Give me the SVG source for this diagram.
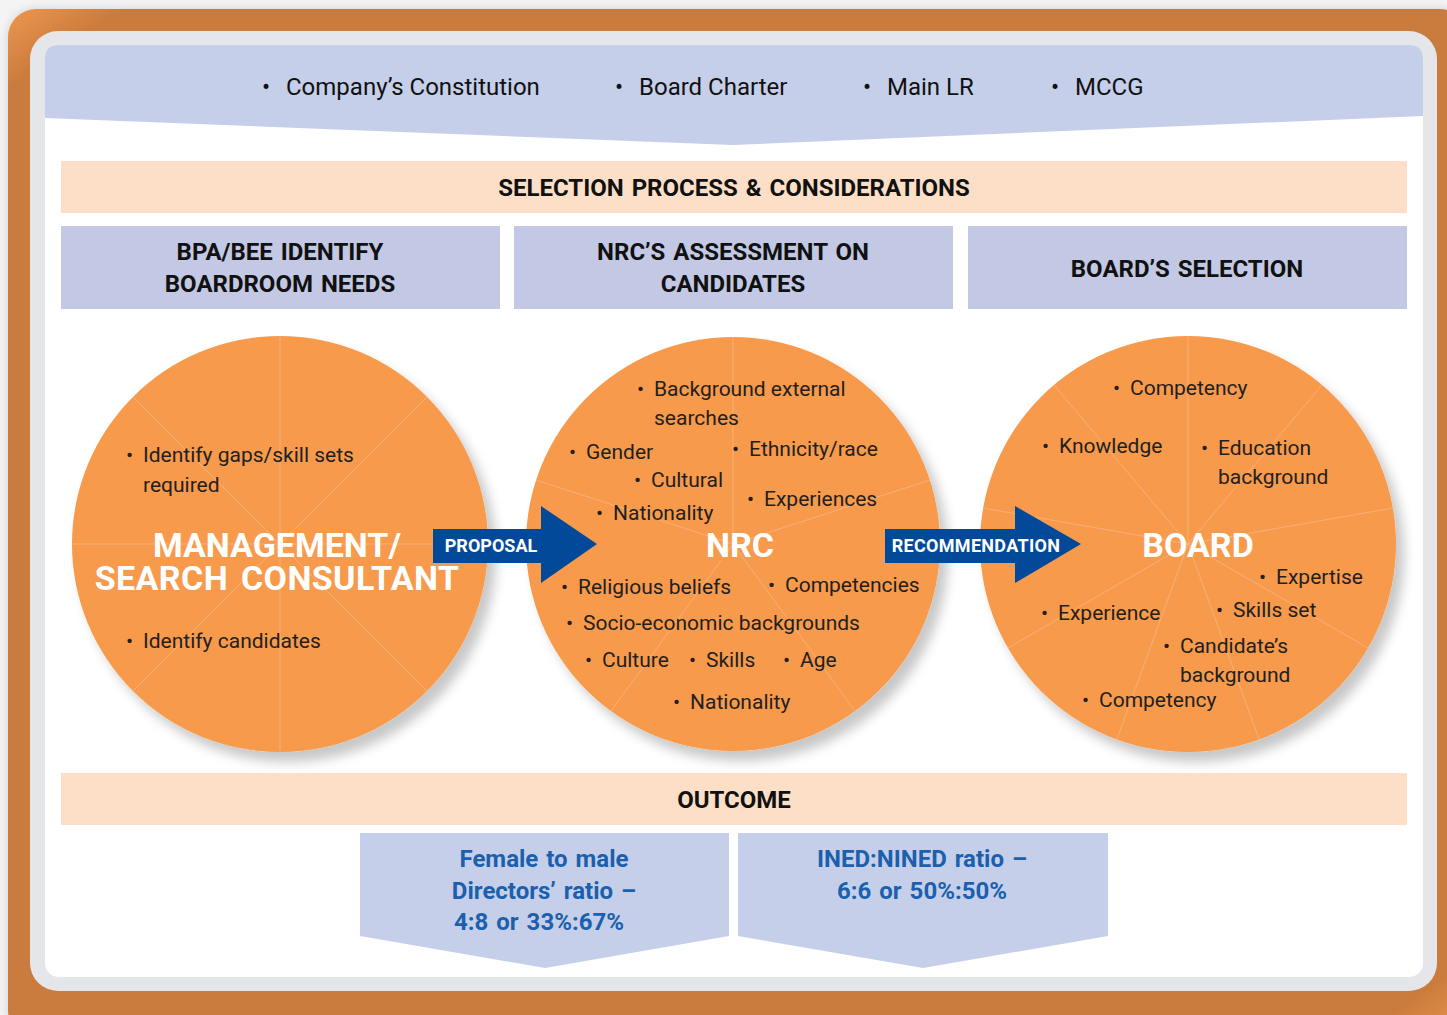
<svg xmlns="http://www.w3.org/2000/svg" width="1447" height="1015" viewBox="0 0 1447 1015">
<defs>
<linearGradient id="og" x1="0" y1="0" x2="1" y2="1">
<stop offset="0" stop-color="#F0964F"/>
<stop offset="0.04" stop-color="#C97B3C"/>
<stop offset="0.96" stop-color="#C97B3C"/>
<stop offset="1" stop-color="#F0964F"/>
</linearGradient>
<filter id="sh" x="-20%" y="-20%" width="150%" height="150%">
<feDropShadow dx="8" dy="10" stdDeviation="6" flood-color="#000" flood-opacity="0.22"/>
</filter>
<filter id="osh" x="-5%" y="-5%" width="110%" height="110%">
<feDropShadow dx="0" dy="0" stdDeviation="5" flood-color="#000" flood-opacity="0.15"/>
</filter>
</defs>
<style>
.t{font-family:Roboto,"Liberation Sans",sans-serif;font-size:21px;fill:#231F20}
.top{font-family:Roboto,"Liberation Sans",sans-serif;font-size:24px;fill:#111}
.h{font-family:Roboto,"Liberation Sans",sans-serif;font-size:24px;font-weight:bold;fill:#111;text-anchor:middle}
.c{font-family:Roboto,"Liberation Sans",sans-serif;font-size:34px;font-weight:bold;fill:#fff;text-anchor:middle}
.a{font-family:Roboto,"Liberation Sans",sans-serif;font-size:18px;font-weight:bold;fill:#fff;text-anchor:middle}
.o{font-family:Roboto,"Liberation Sans",sans-serif;font-size:24px;font-weight:bold;fill:#1B5FAD;text-anchor:middle}
.circ{fill:#F79A4C}
.seg{stroke:#F9B07A;stroke-width:1;fill:none}
.lav{fill:#C5CFEA}
.hd{fill:#C3C8E5}
.pch{fill:#FDDFC7}
.arr{fill:#02499A}
</style>
<rect width="1447" height="1015" fill="#F4F4F4"/>
<rect x="8" y="9" width="1460" height="1030" rx="28" fill="url(#og)" filter="url(#osh)"/>
<rect x="30" y="31" width="1407" height="960" rx="28" fill="#E5E6E9"/>
<rect x="45" y="45" width="1378" height="932" rx="14" fill="#FFFFFF"/>

<g id="sources">
<path class="lav" d="M45,118 L45,59 Q45,45 59,45 L1409,45 Q1423,45 1423,59 L1423,116 L733,145 Z"/>
<text class="top" x="262" y="95">•</text><text class="top" x="286" y="95">Company’s Constitution</text>
<text class="top" x="615" y="95">•</text><text class="top" x="639" y="95">Board Charter</text>
<text class="top" x="863" y="95">•</text><text class="top" x="887" y="95">Main LR</text>
<text class="top" x="1051" y="95">•</text><text class="top" x="1075" y="95">MCCG</text>
</g>

<g id="selection-header">
<rect class="pch" x="61" y="161" width="1346" height="52"/>
<text class="h" x="734" y="196" word-spacing="2">SELECTION PROCESS &amp; CONSIDERATIONS</text>
</g>

<g id="col1-header">
<rect class="hd" x="61" y="226" width="439" height="83"/>
<text class="h" x="280" y="260" word-spacing="2">BPA/BEE IDENTIFY</text>
<text class="h" x="280" y="292" word-spacing="2">BOARDROOM NEEDS</text>
</g>
<g id="col2-header">
<rect class="hd" x="514" y="226" width="439" height="83"/>
<text class="h" x="733" y="260" word-spacing="2">NRC’S ASSESSMENT ON</text>
<text class="h" x="733" y="292" word-spacing="2">CANDIDATES</text>
</g>
<g id="col3-header">
<rect class="hd" x="968" y="226" width="439" height="83"/>
<text class="h" x="1187" y="277" word-spacing="2">BOARD’S SELECTION</text>
</g>

<g id="management">
<circle class="circ" cx="280" cy="544" r="208" filter="url(#sh)"/>
<g class="seg">
<line x1="280" y1="336" x2="280" y2="752"/>
<line x1="72" y1="544" x2="488" y2="544"/>
<line x1="133" y1="397" x2="427" y2="691"/>
<line x1="427" y1="397" x2="133" y2="691"/>
</g>
<text class="t" x="126" y="462">•</text><text class="t" x="143" y="462">Identify gaps/skill sets</text>
<text class="t" x="143" y="492">required</text>
<text class="t" x="126" y="648">•</text><text class="t" x="143" y="648">Identify candidates</text>
<text class="c" x="277" y="557">MANAGEMENT/</text>
<text class="c" x="277" y="590" word-spacing="4" letter-spacing="0.4">SEARCH CONSULTANT</text>
</g>

<g id="nrc">
<circle class="circ" cx="733" cy="544" r="207" filter="url(#sh)"/>
<g class="seg">
<line x1="733" y1="544" x2="733" y2="337"/>
<line x1="733" y1="544" x2="536" y2="480"/>
<line x1="733" y1="544" x2="930" y2="480"/>
<line x1="733" y1="544" x2="611" y2="711"/>
<line x1="733" y1="544" x2="855" y2="711"/>
</g>
<text class="t" x="637" y="396">•</text><text class="t" x="654" y="396">Background external</text>
<text class="t" x="654" y="425">searches</text>
<text class="t" x="569" y="459">•</text><text class="t" x="586" y="459">Gender</text>
<text class="t" x="732" y="456">•</text><text class="t" x="749" y="456">Ethnicity/race</text>
<text class="t" x="634" y="487">•</text><text class="t" x="651" y="487">Cultural</text>
<text class="t" x="747" y="506">•</text><text class="t" x="764" y="506">Experiences</text>
<text class="t" x="596" y="520">•</text><text class="t" x="613" y="520">Nationality</text>
<text class="t" x="561" y="594">•</text><text class="t" x="578" y="594">Religious beliefs</text>
<text class="t" x="768" y="592">•</text><text class="t" x="785" y="592">Competencies</text>
<text class="t" x="566" y="630">•</text><text class="t" x="583" y="630">Socio-economic backgrounds</text>
<text class="t" x="585" y="667">•</text><text class="t" x="602" y="667">Culture</text>
<text class="t" x="689" y="667">•</text><text class="t" x="706" y="667">Skills</text>
<text class="t" x="783" y="667">•</text><text class="t" x="800" y="667">Age</text>
<text class="t" x="673" y="709">•</text><text class="t" x="690" y="709">Nationality</text>
<text class="c" x="740" y="557">NRC</text>
</g>

<g id="board">
<circle class="circ" cx="1188" cy="544" r="208" filter="url(#sh)"/>
<g class="seg">
<line x1="1188" y1="544" x2="1188" y2="336"/>
<line x1="1188" y1="544" x2="1054" y2="385"/>
<line x1="1188" y1="544" x2="1322" y2="385"/>
<line x1="1188" y1="544" x2="983" y2="508"/>
<line x1="1188" y1="544" x2="1393" y2="508"/>
<line x1="1188" y1="544" x2="1008" y2="648"/>
<line x1="1188" y1="544" x2="1368" y2="648"/>
<line x1="1188" y1="544" x2="1117" y2="739"/>
<line x1="1188" y1="544" x2="1259" y2="739"/>
</g>
<text class="t" x="1113" y="395">•</text><text class="t" x="1130" y="395">Competency</text>
<text class="t" x="1042" y="453">•</text><text class="t" x="1059" y="453">Knowledge</text>
<text class="t" x="1201" y="455">•</text><text class="t" x="1218" y="455">Education</text>
<text class="t" x="1218" y="484">background</text>
<text class="t" x="1259" y="584">•</text><text class="t" x="1276" y="584">Expertise</text>
<text class="t" x="1041" y="620">•</text><text class="t" x="1058" y="620">Experience</text>
<text class="t" x="1216" y="617">•</text><text class="t" x="1233" y="617">Skills set</text>
<text class="t" x="1163" y="653">•</text><text class="t" x="1180" y="653">Candidate’s</text>
<text class="t" x="1180" y="682">background</text>
<text class="t" x="1082" y="707">•</text><text class="t" x="1099" y="707">Competency</text>
<text class="c" x="1198" y="557">BOARD</text>
</g>

<g id="connectors">
<path class="arr" d="M433,529 L541,529 L541,506 L597,544 L541,583 L541,563 L433,563 Z"/>
<text class="a" x="491" y="552">PROPOSAL</text>
<path class="arr" d="M885,529 L1015,529 L1015,506 L1081,544 L1015,583 L1015,563 L885,563 Z"/>
<text class="a" x="976" y="552" letter-spacing="0.3">RECOMMENDATION</text>
</g>

<g id="outcome-header">
<rect class="pch" x="61" y="773" width="1346" height="52"/>
<text class="h" x="734" y="808">OUTCOME</text>
</g>

<g id="outcome-gender">
<path class="lav" d="M360,833 L729,833 L729,936 L545,968 L360,936 Z"/>
<text class="o" x="544" y="867" word-spacing="2">Female to male</text>
<text class="o" x="544" y="899" word-spacing="2">Directors’ ratio –</text>
<text class="o" x="539" y="930" word-spacing="2">4:8 or 33%:67%</text>
</g>
<g id="outcome-ined">
<path class="lav" d="M738,833 L1108,833 L1108,936 L923,968 L738,936 Z"/>
<text class="o" x="922" y="867" word-spacing="2">INED:NINED ratio –</text>
<text class="o" x="922" y="899" word-spacing="2">6:6 or 50%:50%</text>
</g>
</svg>
